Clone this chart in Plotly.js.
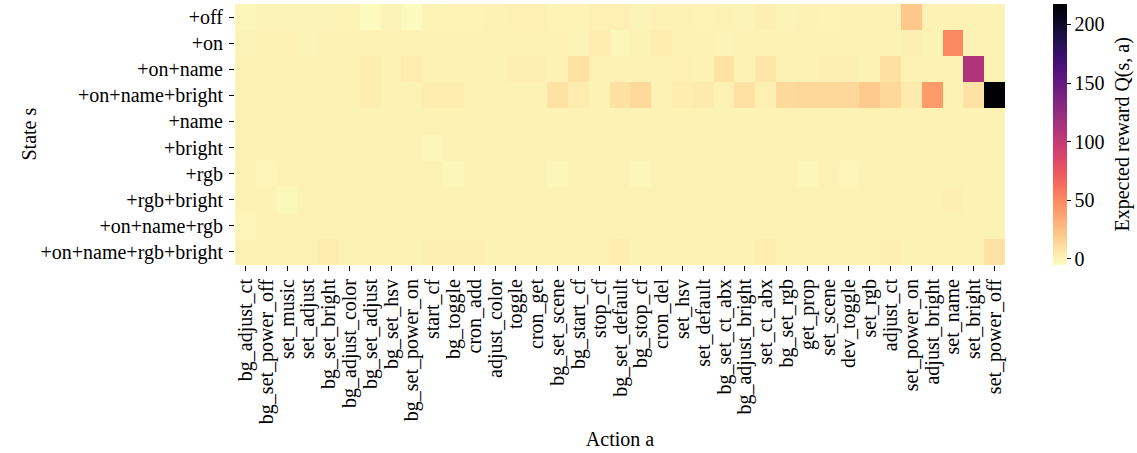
<!DOCTYPE html>
<html>
<head>
<meta charset="utf-8">
<script src="https://cdn.plot.ly/plotly-3.0.1.min.js"></script>
<style>
  html, body { margin: 0; padding: 0; background: #fff; }
  #chart { width: 1137px; height: 453px; }
</style>
</head>
<body>
<div id="chart"></div>
<script>
// Action labels (columns)
const actions = [
  "bg_adjust_ct", "bg_set_power_off", "set_music", "set_adjust", "bg_set_bright",
  "bg_adjust_color", "bg_set_adjust", "bg_set_hsv", "bg_set_power_on", "start_cf",
  "bg_toggle", "cron_add", "adjust_color", "toggle", "cron_get", "bg_set_scene",
  "bg_start_cf", "stop_cf", "bg_set_default", "bg_stop_cf", "cron_del", "set_hsv",
  "set_default", "bg_set_ct_abx", "bg_adjust_bright", "set_ct_abx", "bg_set_rgb",
  "get_prop", "set_scene", "dev_toggle", "set_rgb", "adjust_ct", "set_power_on",
  "adjust_bright", "set_name", "set_bright", "set_power_off"
];

// State labels (rows, top to bottom)
const states = [
  "+off", "+on", "+on+name", "+on+name+bright", "+name", "+bright",
  "+rgb", "+rgb+bright", "+on+name+rgb", "+on+name+rgb+bright"
];

// Expected reward Q(s, a), one array per state, in action order
const qOff = [-2, -1, -1, -1, -1, -0.5, -4, -1, -4, -0.5, -0.5, -0.5, 0.5, 1, 1, -0.5, -0.5, 1, 1, -1, 0.5, 0.5, -0.5, 0.5, -1, 1.5, -1, 0.5, -0.5, 0, 0, 0, 20, 0, 0, 0, 0];
const qOn = [-1, 0.5, 0.5, -1, 0.5, 0.5, 0.5, 0.5, 0.5, 0.5, 0.5, 0.5, 0.5, 0.5, 0.5, 0.5, -1, 2, -2, 0, 2, 0, 0, -1, 0.5, 0, 0, 0, 0, 0, 0, 0, 1.5, 0, 50, 0, 0];
const qOnName = [0, 0, 0, 0, 0, 0, 2, 0, 3, 0, 0, 0, 0, 1.5, 1.5, 0.5, 8, 0.5, 0.5, 0.5, 0.5, 1, 0.5, 8, 0, 6, 0, 0, 1.5, 1.5, 0, 8.5, 0, 0, 0, 110, 0];
const qOnNameBright = [0, 0, 0, 0, 0, 0, 2, 0, 0, 2.5, 2, 0, 0, 0, 0, 8, 3, 0.5, 8.5, 12, 0.5, 2.5, 3.5, 0.5, 8, 1, 12, 13, 13, 13, 19, 13, 4, 41, 0, 8, 217];
const qName = [0, 0, 0, 0, 0, 0, 0, 0, 0, 0, 0, 0, 0, 0, 0, 0, 0, 0, 0, 0, 0, 0, 0, 0, 0, 0, 0, 0, 0, 0, 0, 0, 0, 0, 0, 0, 0];
const qBright = [0, 0, 0, 0, 0, 0, 0, 0, 0, -2, 0, 0, 0, 0, 0, 0, 0, 0, 0, 0, 0, 0, 0, 0, 0, 0, 0, 0, 0, 0, 0, 0, 0, 0, 0, 0, 0];
const qRgb = [0, -1.5, 0, 0, 0, 0, 0, 0, 0, 0, -2, 0, 0, 0, 0, -2, 0, 0, 0, -2, 0, 0, 0, 0, 0, 0, 0, -2.5, 0, -1.5, 0, 0, 0, 0, 0, 0, 0];
const qRgbBright = [0, 0, -3, 0, 0, 0, 0, 0, 0, 0, 0, 0, 0, 0, 0, 0, 0, 0, 0, 0, 0, 0, 0, 0, 0, 0, 0, 0, 0, 0, 0, 0, 0, 0, 1.5, 0, 0];
const qOnNameRgb = [-1.5, 0, 0, 0, 0, 0, 0, 0, 0, 0, 0, 0, 0, 0, 0, 0, 0, 0, 0, 0, 0, 0, 0, 0, 0, 0, 0, 0, 0, 0, 0, 0, 0, 0, 0, 0, 0];
const qOnNameRgbBright = [0, 0, 0, 0, 2, 0, 0, 0, 0, 1.5, 1.5, 1.5, 0, 0, 0, 0, 0, 0, 2, 0, 0, 0, 0, 0, 0, 2, 0, 0, 0, 0, 0, 1.5, 0, 0, 0, 0, 8];

const colorbarTicks = [0, 50, 100, 150, 200];

const qMatrix = [qOff, qOn, qOnName, qOnNameBright, qName, qBright, qRgb, qRgbBright, qOnNameRgb, qOnNameRgbBright];

// Reversed magma colour scale
const magma = ["#000004", "#07061c", "#140e36", "#251255", "#3b0f70", "#51127c", "#641a80",
  "#782281", "#8c2981", "#a1307e", "#b73779", "#cc3f71", "#de4968", "#ed5a5f", "#f7705c",
  "#fc8961", "#fe9f6d", "#feb77e", "#fecf92", "#fde7a9", "#fcfdbf"];
const magmaR = magma.slice().reverse().map((c, i, arr) => [i / (arr.length - 1), c]);

const font = "'Liberation Serif', 'Times New Roman', serif";
const txt = { family: font, size: 20, color: "#000" };

const trace = {
  type: "heatmap",
  x: actions,
  y: states,
  z: qMatrix,
  colorscale: magmaR,
  zmin: -5.5,
  zmax: 217.5,
  xgap: 0,
  ygap: 0,
  colorbar: {
    x: (1053 - 235) / 770,
    xanchor: "left",
    xpad: 0,
    y: 0.5,
    yanchor: "middle",
    ypad: 0,
    len: 1,
    lenmode: "fraction",
    thickness: 14,
    thicknessmode: "pixels",
    outlinewidth: 0,
    tickmode: "array",
    tickvals: colorbarTicks,
    ticktext: colorbarTicks.map(String),
    ticks: "outside",
    ticklen: 4,
    tickwidth: 1,
    tickcolor: "#000",
    tickfont: txt
  }
};

const layout = {
  width: 1137,
  height: 453,
  margin: { l: 235, r: 132, t: 4, b: 188 },
  paper_bgcolor: "#fff",
  plot_bgcolor: "#fff",
  font: txt,
  xaxis: {
    type: "category",
    tickmode: "array",
    tickvals: actions,
    ticktext: actions,
    tickangle: -90,
    ticks: "outside",
    ticklen: 5,
    tickwidth: 1,
    tickcolor: "#000",
    showgrid: false,
    zeroline: false,
    showline: false,
    tickfont: txt,
    title: { text: "Action a", font: txt, standoff: 8 },
    automargin: false
  },
  yaxis: {
    type: "category",
    autorange: "reversed",
    tickmode: "array",
    tickvals: states,
    ticktext: states,
    ticks: "outside",
    ticklen: 5,
    tickwidth: 1,
    tickcolor: "#000",
    ticklabelstandoff: 2,
    showgrid: false,
    zeroline: false,
    showline: false,
    tickfont: txt,
    automargin: false
  },
  annotations: [
    {
      text: "State s",
      xref: "paper",
      yref: "paper",
      x: (28 - 235) / 770,
      y: 0.5,
      xanchor: "center",
      yanchor: "middle",
      textangle: -90,
      showarrow: false,
      font: txt
    },
    {
      text: "Expected reward Q(s, a)",
      xref: "paper",
      yref: "paper",
      x: (1122 - 235) / 770,
      y: 0.5,
      xanchor: "center",
      yanchor: "middle",
      textangle: -90,
      showarrow: false,
      font: txt
    }
  ]
};

Plotly.newPlot("chart", [trace], layout, { displayModeBar: false, staticPlot: true });
</script>
</body>
</html>
